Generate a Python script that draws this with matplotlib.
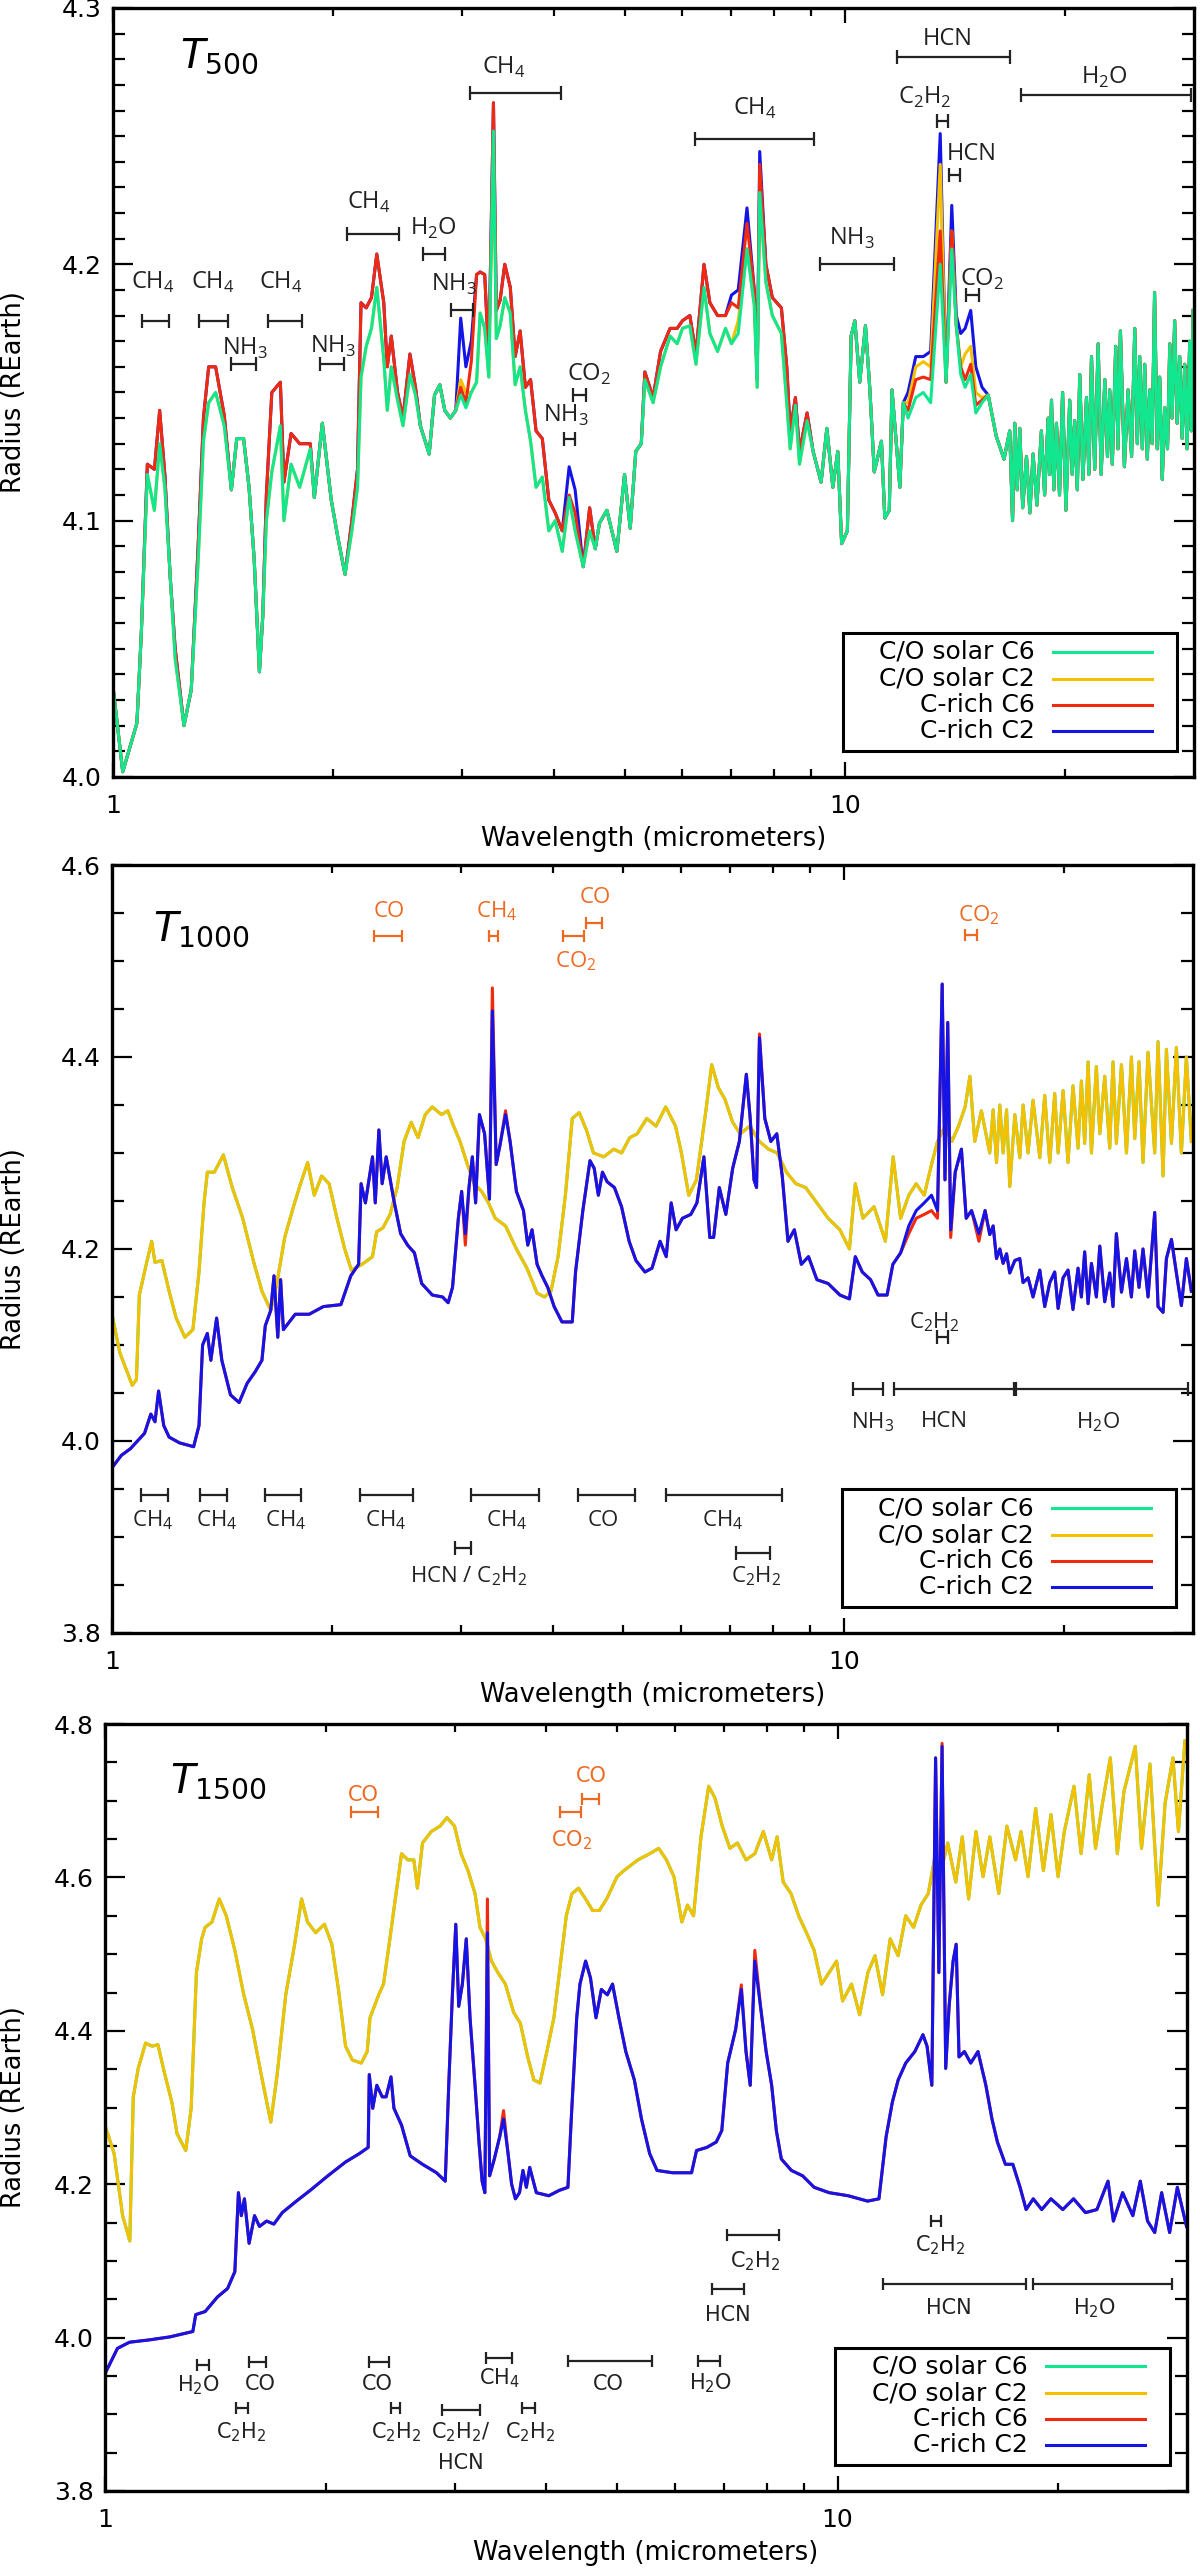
import re
import matplotlib
matplotlib.use('Agg')
import matplotlib.pyplot as plt
from matplotlib.patches import Rectangle
from matplotlib.ticker import (FixedLocator, FixedFormatter, NullFormatter,
                               MultipleLocator, FormatStrFormatter)

plt.rcParams['font.family'] = ['DejaVu Sans']

GREEN = '#12E68E'
YELLOW = '#F4C000'
RED = '#F02A0F'
BLUE = '#1414E6'
ORANGE = '#EE6A22'
DARK = '#222222'

# ---------------- T500 panel (all four models on one grid) ----------------
t500_wl = [
    1.000, 1.031, 1.078, 1.093, 1.114, 1.139, 1.158, 1.177, 1.197, 1.216,
    1.250, 1.279, 1.307, 1.329, 1.351, 1.381, 1.419, 1.451, 1.476, 1.508,
    1.534, 1.559, 1.585, 1.602, 1.620, 1.648, 1.693, 1.712, 1.751, 1.799,
    1.860, 1.884, 1.932, 1.987, 2.030, 2.075, 2.120, 2.158, 2.182, 2.218,
    2.255, 2.293, 2.344, 2.370, 2.400, 2.448, 2.490, 2.545, 2.590, 2.630,
    2.704, 2.750, 2.796, 2.840, 2.890, 2.940, 2.986, 3.035, 3.087, 3.139,
    3.174, 3.220, 3.262, 3.310, 3.340, 3.380, 3.430, 3.490, 3.544, 3.600,
    3.660, 3.720, 3.785, 3.860, 3.940, 4.020, 4.110, 4.200, 4.280, 4.390,
    4.480, 4.560, 4.620, 4.730, 4.880, 5.000, 5.090, 5.180, 5.270, 5.330,
    5.470, 5.600, 5.770, 5.900, 6.000, 6.140, 6.260, 6.420, 6.540, 6.700,
    6.870, 7.000, 7.150, 7.350, 7.520, 7.590, 7.650, 7.800, 7.960, 8.190,
    8.330, 8.420, 8.560, 8.670, 8.880, 9.050, 9.280, 9.450, 9.630, 9.780,
    9.900, 10.08, 10.20, 10.32, 10.48, 10.67, 10.82, 10.97, 11.22, 11.34,
    11.50, 11.60, 11.89, 12.02, 12.20, 12.50, 12.80, 13.10, 13.50, 13.75,
    14.00, 14.20, 14.40, 14.60, 14.86, 15.10, 15.40]

t500_solar_c6 = [
    4.035, 4.002, 4.021, 4.056, 4.118, 4.104, 4.130, 4.113, 4.078, 4.046,
    4.020, 4.034, 4.084, 4.131, 4.146, 4.150, 4.137, 4.112, 4.132, 4.132,
    4.113, 4.085, 4.041, 4.063, 4.100, 4.119, 4.137, 4.100, 4.122, 4.113,
    4.128, 4.109, 4.138, 4.108, 4.093, 4.079, 4.096, 4.113, 4.156, 4.168,
    4.175, 4.191, 4.163, 4.143, 4.160, 4.147, 4.137, 4.157, 4.149, 4.137,
    4.126, 4.149, 4.153, 4.143, 4.140, 4.143, 4.149, 4.144, 4.150, 4.154,
    4.181, 4.175, 4.156, 4.252, 4.171, 4.176, 4.187, 4.181, 4.153, 4.160,
    4.143, 4.131, 4.113, 4.117, 4.096, 4.100, 4.088, 4.109, 4.096, 4.082,
    4.096, 4.089, 4.099, 4.104, 4.088, 4.118, 4.097, 4.127, 4.130, 4.155,
    4.146, 4.160, 4.172, 4.169, 4.175, 4.176, 4.161, 4.191, 4.173, 4.166,
    4.175, 4.169, 4.173, 4.206, 4.184, 4.152, 4.228, 4.193, 4.180, 4.173,
    4.146, 4.128, 4.145, 4.122, 4.139, 4.127, 4.115, 4.136, 4.113, 4.127,
    4.091, 4.096, 4.172, 4.178, 4.154, 4.176, 4.151, 4.119, 4.131, 4.101,
    4.104, 4.151, 4.113, 4.146, 4.140, 4.148, 4.150, 4.146, 4.200, 4.154,
    4.206, 4.176, 4.157, 4.152, 4.157, 4.142, 4.146]

t500_solar_c2 = [
    4.035, 4.002, 4.021, 4.056, 4.118, 4.104, 4.130, 4.113, 4.078, 4.046,
    4.020, 4.034, 4.084, 4.131, 4.146, 4.150, 4.137, 4.112, 4.132, 4.132,
    4.113, 4.085, 4.041, 4.063, 4.100, 4.119, 4.137, 4.100, 4.122, 4.113,
    4.128, 4.109, 4.138, 4.108, 4.093, 4.079, 4.096, 4.113, 4.156, 4.168,
    4.175, 4.191, 4.163, 4.143, 4.160, 4.147, 4.137, 4.157, 4.149, 4.137,
    4.126, 4.149, 4.153, 4.143, 4.140, 4.143, 4.155, 4.150, 4.150, 4.154,
    4.181, 4.175, 4.156, 4.252, 4.171, 4.176, 4.187, 4.181, 4.153, 4.160,
    4.143, 4.131, 4.113, 4.117, 4.096, 4.100, 4.088, 4.109, 4.096, 4.082,
    4.096, 4.089, 4.099, 4.104, 4.088, 4.118, 4.097, 4.127, 4.130, 4.155,
    4.146, 4.160, 4.172, 4.169, 4.175, 4.176, 4.161, 4.191, 4.173, 4.166,
    4.175, 4.169, 4.178, 4.206, 4.184, 4.152, 4.228, 4.193, 4.180, 4.173,
    4.146, 4.128, 4.145, 4.122, 4.139, 4.127, 4.115, 4.136, 4.113, 4.127,
    4.091, 4.096, 4.172, 4.178, 4.154, 4.176, 4.151, 4.119, 4.131, 4.101,
    4.104, 4.151, 4.113, 4.146, 4.146, 4.160, 4.162, 4.160, 4.239, 4.154,
    4.213, 4.176, 4.160, 4.165, 4.168, 4.150, 4.148]

t500_crich_c6 = [
    4.035, 4.002, 4.021, 4.056, 4.122, 4.120, 4.143, 4.118, 4.078, 4.050,
    4.020, 4.034, 4.090, 4.140, 4.160, 4.160, 4.141, 4.112, 4.132, 4.132,
    4.113, 4.085, 4.041, 4.063, 4.110, 4.150, 4.154, 4.115, 4.134, 4.130,
    4.130, 4.109, 4.138, 4.108, 4.093, 4.079, 4.100, 4.120, 4.185, 4.183,
    4.187, 4.204, 4.185, 4.160, 4.172, 4.150, 4.140, 4.165, 4.152, 4.137,
    4.126, 4.149, 4.153, 4.143, 4.140, 4.143, 4.152, 4.146, 4.162, 4.196,
    4.197, 4.196, 4.163, 4.263, 4.182, 4.186, 4.200, 4.191, 4.164, 4.174,
    4.152, 4.155, 4.135, 4.132, 4.108, 4.103, 4.096, 4.110, 4.103, 4.082,
    4.105, 4.089, 4.099, 4.104, 4.088, 4.118, 4.097, 4.127, 4.130, 4.158,
    4.148, 4.166, 4.175, 4.175, 4.178, 4.180, 4.165, 4.200, 4.185, 4.180,
    4.180, 4.185, 4.183, 4.216, 4.190, 4.155, 4.239, 4.200, 4.187, 4.183,
    4.160, 4.135, 4.148, 4.127, 4.142, 4.127, 4.115, 4.136, 4.113, 4.127,
    4.091, 4.096, 4.172, 4.178, 4.154, 4.176, 4.151, 4.119, 4.131, 4.101,
    4.104, 4.151, 4.113, 4.146, 4.143, 4.155, 4.156, 4.155, 4.213, 4.154,
    4.213, 4.176, 4.160, 4.155, 4.161, 4.145, 4.147]

t500_crich_c2 = [
    4.035, 4.002, 4.021, 4.056, 4.122, 4.120, 4.143, 4.118, 4.078, 4.050,
    4.020, 4.034, 4.090, 4.140, 4.160, 4.160, 4.141, 4.112, 4.132, 4.132,
    4.113, 4.085, 4.041, 4.063, 4.110, 4.150, 4.154, 4.115, 4.134, 4.130,
    4.130, 4.109, 4.138, 4.108, 4.093, 4.079, 4.100, 4.120, 4.185, 4.183,
    4.187, 4.204, 4.185, 4.160, 4.172, 4.150, 4.140, 4.165, 4.152, 4.137,
    4.126, 4.149, 4.153, 4.143, 4.140, 4.143, 4.179, 4.160, 4.170, 4.196,
    4.197, 4.196, 4.163, 4.263, 4.182, 4.186, 4.200, 4.191, 4.164, 4.174,
    4.152, 4.155, 4.135, 4.132, 4.108, 4.103, 4.096, 4.121, 4.112, 4.082,
    4.105, 4.089, 4.099, 4.104, 4.088, 4.118, 4.097, 4.127, 4.130, 4.158,
    4.148, 4.166, 4.175, 4.175, 4.178, 4.180, 4.165, 4.200, 4.185, 4.180,
    4.180, 4.188, 4.190, 4.222, 4.190, 4.155, 4.244, 4.200, 4.187, 4.183,
    4.160, 4.135, 4.148, 4.127, 4.142, 4.127, 4.115, 4.136, 4.113, 4.127,
    4.091, 4.096, 4.172, 4.178, 4.154, 4.176, 4.151, 4.119, 4.131, 4.101,
    4.104, 4.151, 4.113, 4.146, 4.150, 4.164, 4.164, 4.166, 4.251, 4.154,
    4.223, 4.180, 4.173, 4.175, 4.182, 4.160, 4.152]

# beyond ~15.5 micron the four T500 models coincide
t500_wl_far = [
    15.70, 16.10, 16.50, 16.80, 16.95, 17.07, 17.20, 17.34, 17.50, 17.71,
    17.90, 18.08, 18.30, 18.56, 18.75, 18.96, 19.05, 19.16, 19.30, 19.46,
    19.65, 19.84, 20.05, 20.29, 20.45, 20.61, 20.78, 20.94, 21.15, 21.39,
    21.55, 21.73, 21.95, 22.19, 22.40, 22.66, 22.85, 23.01, 23.20, 23.45,
    23.62, 23.80, 24.10, 24.38, 24.65, 24.90, 25.10, 25.29, 25.50, 25.69,
    25.90, 26.10, 26.30, 26.50, 26.72, 26.93, 27.15, 27.36, 27.60, 27.80,
    28.00, 28.23, 28.45, 28.68, 28.90, 29.14, 29.35, 29.60, 29.75, 29.91]
t500_far = [
    4.149, 4.133, 4.124, 4.135, 4.100, 4.138, 4.112, 4.136, 4.105, 4.125,
    4.103, 4.126, 4.106, 4.135, 4.110, 4.140, 4.118, 4.147, 4.112, 4.138,
    4.110, 4.150, 4.104, 4.147, 4.118, 4.139, 4.112, 4.157, 4.116, 4.148,
    4.118, 4.164, 4.120, 4.169, 4.118, 4.155, 4.125, 4.151, 4.122, 4.168,
    4.128, 4.174, 4.121, 4.151, 4.125, 4.175, 4.130, 4.164, 4.128, 4.161,
    4.124, 4.151, 4.130, 4.189, 4.128, 4.156, 4.116, 4.144, 4.128, 4.169,
    4.140, 4.178, 4.138, 4.164, 4.132, 4.161, 4.128, 4.170, 4.135, 4.182]

# ---------------- T1000 panel ----------------
t1000_wl_solar = [
    1.000, 1.025, 1.066, 1.080, 1.090, 1.114, 1.133, 1.145, 1.170, 1.197,
    1.224, 1.258, 1.290, 1.315, 1.336, 1.350, 1.380, 1.420, 1.460, 1.509,
    1.560, 1.603, 1.648, 1.680, 1.722, 1.770, 1.810, 1.851, 1.890, 1.934,
    1.980, 2.030, 2.080, 2.124, 2.197, 2.270, 2.300, 2.346, 2.399, 2.453,
    2.507, 2.564, 2.620, 2.680, 2.739, 2.820, 2.877, 2.930, 2.990, 3.060,
    3.126, 3.200, 3.270, 3.340, 3.450, 3.570, 3.690, 3.810, 3.900, 3.980,
    4.070, 4.165, 4.256, 4.350, 4.450, 4.550, 4.700, 4.850, 4.970, 5.100,
    5.220, 5.380, 5.540, 5.710, 5.890, 6.000, 6.140, 6.290, 6.480, 6.600,
    6.740, 6.880, 7.050, 7.220, 7.440, 7.670, 7.890, 8.110, 8.350, 8.600,
    8.870, 9.190, 9.520, 9.880, 10.18, 10.37, 10.62, 11.00, 11.40, 11.68,
    11.96, 12.27, 12.56, 12.88, 13.18, 13.43, 13.75, 14.05, 14.35, 14.65,
    14.87, 15.10, 15.42]

t1000_solar_c2 = [
    4.132, 4.092, 4.058, 4.064, 4.152, 4.184, 4.208, 4.186, 4.188, 4.156,
    4.128, 4.108, 4.116, 4.176, 4.248, 4.280, 4.280, 4.298, 4.264, 4.232,
    4.188, 4.156, 4.136, 4.164, 4.212, 4.244, 4.268, 4.290, 4.256, 4.276,
    4.268, 4.232, 4.200, 4.178, 4.184, 4.192, 4.218, 4.222, 4.236, 4.264,
    4.312, 4.332, 4.316, 4.340, 4.348, 4.340, 4.344, 4.328, 4.312, 4.288,
    4.268, 4.260, 4.248, 4.232, 4.224, 4.200, 4.180, 4.154, 4.150, 4.156,
    4.192, 4.256, 4.336, 4.342, 4.324, 4.300, 4.296, 4.304, 4.300, 4.316,
    4.320, 4.336, 4.328, 4.348, 4.328, 4.300, 4.256, 4.272, 4.344, 4.392,
    4.368, 4.356, 4.332, 4.320, 4.328, 4.312, 4.304, 4.300, 4.280, 4.268,
    4.264, 4.248, 4.232, 4.220, 4.200, 4.268, 4.232, 4.244, 4.208, 4.296,
    4.232, 4.256, 4.268, 4.256, 4.288, 4.312, 4.328, 4.312, 4.328, 4.348,
    4.380, 4.312, 4.344]
# the two solar-C/O runs lie on top of each other at this temperature
t1000_solar_c6 = t1000_solar_c2

t1000_wl_crich = [
    1.000, 1.030, 1.060, 1.108, 1.130, 1.145, 1.158, 1.177, 1.197, 1.237,
    1.293, 1.315, 1.330, 1.350, 1.365, 1.390, 1.413, 1.452, 1.492, 1.530,
    1.569, 1.603, 1.620, 1.648, 1.665, 1.685, 1.700, 1.715, 1.780, 1.860,
    1.945, 2.055, 2.120, 2.173, 2.190, 2.220, 2.270, 2.290, 2.316, 2.340,
    2.370, 2.426, 2.480, 2.535, 2.590, 2.650, 2.740, 2.830, 2.880, 2.920,
    2.974, 3.005, 3.040, 3.075, 3.108, 3.140, 3.178, 3.230, 3.280, 3.310,
    3.350, 3.390, 3.450, 3.500, 3.570, 3.650, 3.700, 3.750, 3.810, 3.870,
    3.940, 4.020, 4.120, 4.256, 4.300, 4.400, 4.500, 4.560, 4.620, 4.680,
    4.750, 4.860, 4.970, 5.090, 5.200, 5.350, 5.470, 5.610, 5.720, 5.810,
    5.900, 6.020, 6.180, 6.300, 6.440, 6.560, 6.640, 6.760, 6.900, 7.050,
    7.200, 7.360, 7.450, 7.540, 7.600, 7.670, 7.800, 7.950, 8.100, 8.240,
    8.390, 8.560, 8.750, 8.950, 9.190, 9.520, 9.880, 10.18, 10.37, 10.60,
    10.88, 11.14, 11.46, 11.67, 11.96, 12.27, 12.56, 12.88, 13.18, 13.43,
    13.63, 13.75, 13.87, 14.00, 14.20, 14.48, 14.70, 14.95, 15.30, 15.60]

t1000_crich_c2 = [
    3.972, 3.985, 3.992, 4.008, 4.028, 4.020, 4.052, 4.016, 4.004, 3.998,
    3.994, 4.016, 4.100, 4.112, 4.084, 4.128, 4.084, 4.048, 4.040, 4.060,
    4.072, 4.084, 4.120, 4.136, 4.172, 4.108, 4.168, 4.116, 4.132, 4.132,
    4.140, 4.142, 4.172, 4.184, 4.268, 4.248, 4.296, 4.248, 4.324, 4.268,
    4.296, 4.252, 4.216, 4.204, 4.196, 4.164, 4.152, 4.150, 4.144, 4.160,
    4.232, 4.260, 4.216, 4.264, 4.296, 4.248, 4.340, 4.320, 4.252, 4.448,
    4.288, 4.308, 4.340, 4.312, 4.260, 4.240, 4.204, 4.220, 4.184, 4.172,
    4.160, 4.140, 4.124, 4.124, 4.176, 4.240, 4.292, 4.284, 4.256, 4.280,
    4.270, 4.264, 4.244, 4.208, 4.188, 4.176, 4.180, 4.208, 4.192, 4.248,
    4.220, 4.232, 4.236, 4.248, 4.296, 4.212, 4.212, 4.264, 4.236, 4.284,
    4.312, 4.382, 4.336, 4.272, 4.264, 4.420, 4.336, 4.312, 4.320, 4.276,
    4.208, 4.220, 4.184, 4.192, 4.168, 4.164, 4.152, 4.148, 4.192, 4.176,
    4.168, 4.152, 4.152, 4.184, 4.196, 4.224, 4.240, 4.248, 4.256, 4.240,
    4.476, 4.272, 4.436, 4.220, 4.280, 4.304, 4.232, 4.240, 4.216, 4.240]

t1000_crich_c6 = [
    3.972, 3.985, 3.992, 4.008, 4.028, 4.020, 4.052, 4.016, 4.004, 3.998,
    3.994, 4.016, 4.100, 4.112, 4.084, 4.128, 4.084, 4.048, 4.040, 4.060,
    4.072, 4.084, 4.120, 4.136, 4.172, 4.108, 4.168, 4.116, 4.132, 4.132,
    4.140, 4.142, 4.172, 4.184, 4.268, 4.248, 4.296, 4.248, 4.324, 4.268,
    4.296, 4.252, 4.216, 4.204, 4.196, 4.164, 4.152, 4.150, 4.144, 4.160,
    4.232, 4.260, 4.204, 4.264, 4.296, 4.248, 4.340, 4.320, 4.252, 4.472,
    4.288, 4.308, 4.344, 4.312, 4.260, 4.240, 4.204, 4.220, 4.184, 4.172,
    4.160, 4.140, 4.124, 4.124, 4.176, 4.240, 4.292, 4.284, 4.256, 4.280,
    4.270, 4.264, 4.244, 4.208, 4.188, 4.176, 4.180, 4.208, 4.192, 4.248,
    4.220, 4.232, 4.236, 4.248, 4.296, 4.212, 4.212, 4.264, 4.236, 4.284,
    4.312, 4.382, 4.336, 4.272, 4.264, 4.424, 4.336, 4.312, 4.320, 4.276,
    4.208, 4.220, 4.184, 4.192, 4.168, 4.164, 4.152, 4.148, 4.192, 4.176,
    4.168, 4.152, 4.152, 4.184, 4.196, 4.216, 4.232, 4.236, 4.240, 4.232,
    4.476, 4.272, 4.436, 4.212, 4.280, 4.304, 4.232, 4.240, 4.208, 4.240]

# far-infrared tail, finer sampling of the noisy part
t1000_wl_far = [
    15.83, 16.00, 16.17, 16.34, 16.51, 16.69, 16.86, 17.13, 17.40, 17.58,
    17.86, 18.14, 18.53, 18.82, 19.12, 19.42, 19.63, 19.94, 20.25, 20.57,
    20.90, 21.12, 21.34, 21.57, 21.80, 22.14, 22.38, 22.73, 23.09, 23.33,
    23.58, 23.96, 24.34, 24.72, 24.98, 25.32, 25.64, 26.05, 26.60, 26.88,
    27.31, 27.60, 28.04, 28.48, 28.93, 29.39, 29.85]
t1000_solar_far = [
    4.300, 4.345, 4.290, 4.350, 4.300, 4.345, 4.265, 4.340, 4.295, 4.350,
    4.300, 4.355, 4.295, 4.360, 4.290, 4.362, 4.300, 4.365, 4.290, 4.370,
    4.305, 4.375, 4.310, 4.395, 4.300, 4.390, 4.320, 4.380, 4.305, 4.395,
    4.310, 4.392, 4.300, 4.400, 4.315, 4.395, 4.290, 4.405, 4.300, 4.416,
    4.276, 4.408, 4.310, 4.410, 4.300, 4.400, 4.312]
t1000_crich_far = [
    4.215, 4.224, 4.190, 4.200, 4.185, 4.195, 4.175, 4.188, 4.190, 4.165,
    4.170, 4.150, 4.178, 4.140, 4.165, 4.176, 4.138, 4.170, 4.178, 4.137,
    4.180, 4.150, 4.197, 4.143, 4.185, 4.150, 4.203, 4.145, 4.175, 4.140,
    4.216, 4.155, 4.190, 4.150, 4.198, 4.160, 4.200, 4.150, 4.238, 4.140,
    4.134, 4.190, 4.210, 4.175, 4.141, 4.190, 4.156]

# ---------------- T1500 panel ----------------
t1500_wl_solar = [
    1.000, 1.029, 1.057, 1.081, 1.093, 1.110, 1.136, 1.160, 1.181, 1.207,
    1.234, 1.254, 1.289, 1.311, 1.333, 1.355, 1.370, 1.400, 1.432, 1.464,
    1.504, 1.547, 1.590, 1.634, 1.684, 1.718, 1.765, 1.815, 1.855, 1.890,
    1.939, 1.993, 2.040, 2.083, 2.130, 2.176, 2.238, 2.280, 2.300, 2.364,
    2.400, 2.443, 2.484, 2.540, 2.590, 2.640, 2.670, 2.713, 2.789, 2.867,
    2.930, 3.000, 3.063, 3.130, 3.200, 3.250, 3.308, 3.370, 3.438, 3.520,
    3.613, 3.690, 3.776, 3.850, 3.925, 4.010, 4.100, 4.180, 4.263, 4.340,
    4.430, 4.530, 4.630, 4.730, 4.840, 5.000, 5.110, 5.340, 5.540, 5.700,
    5.840, 5.980, 6.130, 6.240, 6.360, 6.510, 6.670, 6.800, 6.960, 7.130,
    7.300, 7.500, 7.710, 7.920, 8.130, 8.270, 8.430, 8.640, 8.850, 9.070,
    9.290, 9.510, 9.740, 9.970, 10.16, 10.45, 10.72, 11.00, 11.25, 11.52,
    11.80, 12.10, 12.39, 12.70, 13.00, 13.30, 13.56, 13.85, 14.14, 14.50,
    14.80, 15.10, 15.45, 15.80, 16.14, 16.60, 17.03, 17.50, 17.80, 18.20,
    18.64, 19.10, 19.56, 20.00, 20.40, 21.03, 21.50, 22.06, 22.50, 23.00,
    23.57, 24.10, 24.60, 25.50, 26.00, 26.70, 27.40, 28.00, 28.70, 29.20,
    29.80]

t1500_solar_c2 = [
    4.277, 4.240, 4.159, 4.126, 4.314, 4.351, 4.384, 4.380, 4.382, 4.343,
    4.307, 4.266, 4.244, 4.299, 4.476, 4.520, 4.535, 4.542, 4.572, 4.550,
    4.505, 4.447, 4.402, 4.343, 4.281, 4.343, 4.447, 4.513, 4.572, 4.542,
    4.528, 4.539, 4.513, 4.454, 4.380, 4.362, 4.358, 4.373, 4.417, 4.447,
    4.461, 4.513, 4.564, 4.631, 4.623, 4.623, 4.586, 4.645, 4.660, 4.667,
    4.678, 4.667, 4.631, 4.609, 4.579, 4.535, 4.520, 4.491, 4.476, 4.461,
    4.424, 4.410, 4.366, 4.336, 4.332, 4.373, 4.417, 4.483, 4.550, 4.579,
    4.586, 4.572, 4.557, 4.557, 4.572, 4.601, 4.609, 4.623, 4.631, 4.638,
    4.623, 4.601, 4.542, 4.564, 4.550, 4.653, 4.719, 4.704, 4.667, 4.638,
    4.645, 4.623, 4.631, 4.660, 4.623, 4.653, 4.594, 4.579, 4.550, 4.528,
    4.505, 4.461, 4.476, 4.491, 4.439, 4.461, 4.421, 4.476, 4.498, 4.447,
    4.520, 4.498, 4.550, 4.535, 4.564, 4.579, 4.623, 4.609, 4.645, 4.594,
    4.653, 4.572, 4.660, 4.601, 4.653, 4.579, 4.667, 4.623, 4.660, 4.601,
    4.690, 4.609, 4.682, 4.601, 4.660, 4.719, 4.631, 4.734, 4.638, 4.697,
    4.756, 4.631, 4.712, 4.771, 4.638, 4.748, 4.564, 4.697, 4.756, 4.660,
    4.778]
t1500_solar_c6 = t1500_solar_c2

t1500_wl_crich = [
    1.000, 1.040, 1.080, 1.149, 1.227, 1.318, 1.330, 1.370, 1.424, 1.470,
    1.504, 1.521, 1.535, 1.550, 1.573, 1.600, 1.625, 1.662, 1.700, 1.746,
    1.825, 1.906, 2.015, 2.130, 2.225, 2.287, 2.295, 2.320, 2.350, 2.390,
    2.420, 2.457, 2.480, 2.540, 2.610, 2.713, 2.835, 2.914, 2.946, 2.980,
    3.012, 3.040, 3.075, 3.113, 3.150, 3.200, 3.240, 3.272, 3.300, 3.327,
    3.350, 3.400, 3.458, 3.500, 3.550, 3.590, 3.633, 3.680, 3.720, 3.760,
    3.800, 3.880, 4.035, 4.170, 4.285, 4.330, 4.405, 4.450, 4.530, 4.600,
    4.680, 4.760, 4.850, 4.930, 5.030, 5.140, 5.280, 5.400, 5.540, 5.670,
    5.950, 6.320, 6.420, 6.630, 6.830, 6.950, 7.080, 7.260, 7.390, 7.500,
    7.600, 7.710, 7.850, 7.990, 8.130, 8.250, 8.380, 8.650, 8.960, 9.290,
    9.740, 10.34, 10.99, 11.39, 11.65, 11.88, 12.10, 12.39, 12.75, 13.08,
    13.25, 13.45, 13.61, 13.75, 13.89, 14.05, 14.20, 14.38, 14.52, 14.65,
    14.90, 15.20, 15.55, 15.94, 16.25, 16.53, 16.95, 17.35, 17.75, 18.09,
    18.50, 19.00, 19.56, 20.30, 21.00, 21.80, 22.60, 23.40, 23.80, 24.50,
    25.30, 25.90, 26.50, 27.10, 27.70, 28.40, 29.10, 29.95]

t1500_crich_c2 = [
    3.953, 3.986, 3.994, 3.997, 4.001, 4.008, 4.030, 4.034, 4.053, 4.064,
    4.086, 4.189, 4.159, 4.181, 4.123, 4.159, 4.145, 4.152, 4.148, 4.163,
    4.178, 4.192, 4.211, 4.229, 4.240, 4.248, 4.343, 4.299, 4.329, 4.314,
    4.314, 4.340, 4.299, 4.277, 4.237, 4.226, 4.215, 4.204, 4.329, 4.447,
    4.539, 4.432, 4.461, 4.520, 4.417, 4.329, 4.255, 4.204, 4.189, 4.528,
    4.211, 4.233, 4.262, 4.285, 4.240, 4.200, 4.181, 4.189, 4.218, 4.196,
    4.222, 4.189, 4.185, 4.192, 4.196, 4.285, 4.417, 4.461, 4.491, 4.469,
    4.417, 4.454, 4.447, 4.461, 4.417, 4.373, 4.336, 4.285, 4.240, 4.218,
    4.215, 4.215, 4.244, 4.248, 4.255, 4.270, 4.358, 4.402, 4.454, 4.373,
    4.329, 4.491, 4.432, 4.373, 4.329, 4.270, 4.233, 4.218, 4.211, 4.196,
    4.189, 4.185, 4.178, 4.181, 4.262, 4.307, 4.336, 4.358, 4.373, 4.395,
    4.380, 4.329, 4.756, 4.476, 4.771, 4.351, 4.432, 4.491, 4.513, 4.366,
    4.373, 4.358, 4.373, 4.329, 4.285, 4.255, 4.226, 4.226, 4.196, 4.167,
    4.181, 4.167, 4.181, 4.167, 4.181, 4.163, 4.167, 4.204, 4.152, 4.189,
    4.159, 4.204, 4.152, 4.137, 4.189, 4.137, 4.196, 4.145]

t1500_crich_c6 = [
    3.953, 3.986, 3.994, 3.997, 4.001, 4.008, 4.030, 4.034, 4.053, 4.064,
    4.086, 4.189, 4.159, 4.181, 4.123, 4.159, 4.145, 4.152, 4.148, 4.163,
    4.178, 4.192, 4.211, 4.229, 4.240, 4.248, 4.343, 4.299, 4.329, 4.314,
    4.314, 4.340, 4.299, 4.277, 4.237, 4.226, 4.215, 4.204, 4.329, 4.447,
    4.539, 4.432, 4.461, 4.520, 4.417, 4.329, 4.255, 4.204, 4.189, 4.572,
    4.211, 4.233, 4.262, 4.296, 4.240, 4.200, 4.181, 4.189, 4.218, 4.196,
    4.222, 4.189, 4.185, 4.192, 4.196, 4.285, 4.417, 4.461, 4.491, 4.469,
    4.417, 4.454, 4.447, 4.461, 4.417, 4.373, 4.336, 4.285, 4.240, 4.218,
    4.215, 4.215, 4.244, 4.248, 4.255, 4.270, 4.358, 4.402, 4.460, 4.373,
    4.329, 4.505, 4.432, 4.373, 4.329, 4.270, 4.233, 4.218, 4.211, 4.196,
    4.189, 4.185, 4.178, 4.181, 4.262, 4.307, 4.336, 4.358, 4.373, 4.395,
    4.380, 4.329, 4.756, 4.476, 4.775, 4.351, 4.432, 4.491, 4.513, 4.366,
    4.373, 4.358, 4.373, 4.329, 4.285, 4.255, 4.226, 4.226, 4.196, 4.167,
    4.181, 4.167, 4.181, 4.167, 4.181, 4.163, 4.167, 4.204, 4.152, 4.189,
    4.159, 4.204, 4.152, 4.137, 4.189, 4.137, 4.196, 4.145]

# ---------------- molecule band annotations: (label, x, y) and (x1, x2, y) ----------------
t500_labels = [('CH4', 1.134, 4.193), ('CH4', 1.367, 4.193), ('NH3', 1.514, 4.167),
               ('CH4', 1.698, 4.193), ('NH3', 1.998, 4.168), ('CH4', 2.239, 4.224),
               ('H2O', 2.741, 4.214), ('NH3', 2.925, 4.192), ('CH4', 3.415, 4.277),
               ('NH3', 4.165, 4.141), ('CO2', 4.475, 4.157), ('CH4', 7.53, 4.261),
               ('NH3', 10.24, 4.210), ('HCN', 13.84, 4.288), ('H2O', 22.6, 4.273),
               ('C2H2', 12.87, 4.265), ('HCN', 14.91, 4.243), ('CO2', 15.4, 4.194)]
t500_bars = [(1.094, 1.194, 4.178), (1.309, 1.434, 4.178), (1.450, 1.566, 4.161),
             (1.627, 1.810, 4.178), (1.915, 2.070, 4.161), (2.088, 2.460, 4.212),
             (2.651, 2.842, 4.204), (2.893, 3.108, 4.182), (3.077, 4.093, 4.267),
             (4.128, 4.280, 4.132), (4.256, 4.430, 4.149), (6.24, 9.08, 4.249),
             (9.24, 11.69, 4.200), (11.77, 16.83, 4.281), (17.4, 29.7, 4.266),
             (13.38, 13.84, 4.256), (13.87, 14.35, 4.235), (14.66, 15.24, 4.188)]

t1000_labels = [('CH4', 1.136, 3.917), ('CH4', 1.388, 3.917), ('CH4', 1.727, 3.917),
                ('CH4', 2.368, 3.917), ('CH4', 3.467, 3.917), ('CO', 4.69, 3.917),
                ('CH4', 6.83, 3.917), ('HCN / C2H2', 3.07, 3.859), ('C2H2', 7.6, 3.859),
                ('C2H2', 13.3, 4.124), ('NH3', 10.94, 4.020), ('HCN', 13.73, 4.020),
                ('H2O', 22.26, 4.020)]
t1000_bars = [(1.096, 1.192, 3.944), (1.32, 1.438, 3.944), (1.62, 1.814, 3.944),
              (2.184, 2.576, 3.944), (3.092, 3.828, 3.944), (4.337, 5.192, 3.944),
              (5.72, 8.24, 3.944), (2.944, 3.092, 3.888), (7.12, 7.93, 3.883),
              (10.3, 11.3, 4.054), (11.7, 17.1, 4.054), (17.2, 29.5, 4.054),
              (13.4, 13.9, 4.108)]
t1000_labels_hot = [('CO', 2.393, 4.552), ('CH4', 3.35, 4.552), ('CO2', 4.305, 4.500),
                    ('CO', 4.578, 4.566), ('CO2', 15.29, 4.548)]
t1000_bars_hot = [(2.28, 2.49, 4.526), (3.27, 3.37, 4.526), (4.14, 4.42, 4.526),
                  (4.45, 4.67, 4.540), (14.65, 15.2, 4.527)]

t1500_labels = [('H2O', 1.343, 3.938), ('CO', 1.631, 3.940), ('C2H2', 1.535, 3.877),
                ('CO', 2.35, 3.940), ('C2H2', 2.497, 3.877), ('C2H2/', 3.063, 3.877),
                ('HCN', 3.063, 3.837), ('CH4', 3.458, 3.947), ('C2H2', 3.81, 3.877),
                ('CO', 4.864, 3.940), ('H2O', 6.71, 3.940), ('HCN', 7.08, 4.030),
                ('C2H2', 7.71, 4.100), ('C2H2', 13.8, 4.121), ('HCN', 14.17, 4.038),
                ('H2O', 22.46, 4.038)]
t1500_bars = [(1.337, 1.385, 3.964), (1.57, 1.66, 3.968), (1.508, 1.566, 3.908),
              (2.29, 2.44, 3.968), (2.46, 2.53, 3.908), (2.88, 3.25, 3.905),
              (3.31, 3.59, 3.973), (3.71, 3.86, 3.908), (4.29, 5.58, 3.970),
              (6.45, 6.92, 3.970), (6.74, 7.45, 4.064), (7.06, 8.33, 4.134),
              (13.4, 13.85, 4.152), (11.55, 18.1, 4.070), (18.5, 28.6, 4.070)]
t1500_labels_hot = [('CO', 2.249, 4.708), ('CO2', 4.334, 4.649), ('CO', 4.605, 4.732)]
t1500_bars_hot = [(2.165, 2.36, 4.686), (4.18, 4.46, 4.686), (4.48, 4.73, 4.703)]

legend_names = ['C/O solar C6', 'C/O solar C2', 'C-rich C6', 'C-rich C2']
legend_colors = [GREEN, YELLOW, RED, BLUE]


def chem(s):
    # digits in formulas become subscripts drawn in the label's own font
    return re.sub(r'(\d)', r'$_{\\mathdefault{\1}}$', s)


def style_axes(ax, ylim, major, minor):
    ax.set_xscale('log')
    ax.set_xlim(1, 30)
    ax.set_ylim(*ylim)
    ax.xaxis.set_major_locator(FixedLocator([1, 10]))
    ax.xaxis.set_major_formatter(FixedFormatter(['1', '10']))
    ax.xaxis.set_minor_locator(FixedLocator([2, 3, 4, 5, 6, 7, 8, 9, 20]))
    ax.xaxis.set_minor_formatter(NullFormatter())
    ax.yaxis.set_major_locator(MultipleLocator(major))
    ax.yaxis.set_minor_locator(MultipleLocator(minor))
    ax.yaxis.set_major_formatter(FormatStrFormatter('%.1f'))
    ax.tick_params(which='both', direction='in', top=True, right=True,
                   width=1.6, labelsize=18)
    ax.tick_params(axis='x', which='major', length=11, pad=12)
    ax.tick_params(axis='x', which='minor', length=5.5)
    ax.tick_params(axis='y', which='major', length=14.5, pad=8)
    ax.tick_params(axis='y', which='minor', length=8.5)
    for s in ax.spines.values():
        s.set_linewidth(2.4)
    ax.set_xlabel('Wavelength (micrometers)', fontsize=18.5, labelpad=6)
    ax.set_ylabel('Radius (REarth)', fontsize=18.5)


def annotate(ax, labels, bars, color, family, size, cap):
    for x1, x2, y in bars:
        ax.plot([x1, x2], [y, y], color=color, lw=1.6, solid_capstyle='butt', zorder=5)
        ax.plot([x1, x2], [y, y], ls='none', marker='|', ms=cap, mew=1.6,
                color=color, zorder=5)
    for txt, x, y in labels:
        ax.text(x, y, chem(txt), color=color, fontsize=size, family=family,
                ha='center', va='center', zorder=6)


def draw_legend(ax):
    ax.add_patch(Rectangle((0.675, 0.034), 0.309, 0.153, transform=ax.transAxes,
                           fc='white', ec='black', lw=2.2, zorder=10))
    rows = [0.1625, 0.1274, 0.0936, 0.0598]
    for name, col, yy in zip(legend_names, legend_colors, rows):
        ax.text(0.853, yy, name, transform=ax.transAxes, ha='right', va='center',
                fontsize=18, zorder=11)
        ax.plot([0.8696, 0.961], [yy, yy], transform=ax.transAxes, color=col,
                lw=2.2, zorder=11)


fig = plt.figure(figsize=(12, 25.76), dpi=100)
ax1 = fig.add_axes([0.0942, 0.6984, 0.9008, 0.2985])
ax2 = fig.add_axes([0.0933, 0.3661, 0.9008, 0.2981])
ax3 = fig.add_axes([0.0875, 0.0330, 0.9017, 0.2977])

# T500: green drawn last, it sits on top
wl500 = t500_wl + t500_wl_far
ax1.plot(wl500, t500_crich_c2 + t500_far, color=BLUE, lw=2.2)
ax1.plot(wl500, t500_solar_c2 + t500_far, color=YELLOW, lw=2.2)
ax1.plot(wl500, t500_crich_c6 + t500_far, color=RED, lw=2.2)
ax1.plot(wl500, t500_solar_c6 + t500_far, color=GREEN, lw=2.2)

# T1000: blue drawn last
ax2.plot(t1000_wl_solar + t1000_wl_far, t1000_solar_c6 + t1000_solar_far, color=GREEN, lw=2.2)
ax2.plot(t1000_wl_solar + t1000_wl_far, t1000_solar_c2 + t1000_solar_far, color=YELLOW, lw=2.2)
ax2.plot(t1000_wl_crich + t1000_wl_far, t1000_crich_c6 + t1000_crich_far, color=RED, lw=2.2)
ax2.plot(t1000_wl_crich + t1000_wl_far, t1000_crich_c2 + t1000_crich_far, color=BLUE, lw=2.2)

# T1500
ax3.plot(t1500_wl_solar, t1500_solar_c6, color=GREEN, lw=2.2)
ax3.plot(t1500_wl_solar, t1500_solar_c2, color=YELLOW, lw=2.2)
ax3.plot(t1500_wl_crich, t1500_crich_c6, color=RED, lw=2.2)
ax3.plot(t1500_wl_crich, t1500_crich_c2, color=BLUE, lw=2.2)

style_axes(ax1, (4.0, 4.3), 0.1, 0.01)
style_axes(ax2, (3.8, 4.6), 0.2, 0.05)
style_axes(ax3, (3.8, 4.8), 0.2, 0.05)
ax1.yaxis.set_label_coords(-86 / 1081, 0.5)
ax2.yaxis.set_label_coords(-85 / 1081, 0.5)
ax3.yaxis.set_label_coords(-78 / 1082, 0.5)

annotate(ax1, t500_labels, t500_bars, DARK, 'Open Sans', 17, 10)
annotate(ax2, t1000_labels, t1000_bars, DARK, 'Open Sans', 16, 10)
annotate(ax2, t1000_labels_hot, t1000_bars_hot, ORANGE, 'Open Sans', 16, 8)
annotate(ax3, t1500_labels, t1500_bars, DARK, 'DejaVu Sans', 15, 9)
annotate(ax3, t1500_labels_hot, t1500_bars_hot, ORANGE, 'DejaVu Sans', 15, 8)

ax1.text(0.062, 0.923, r'$T_{500}$', transform=ax1.transAxes, fontsize=29, va='baseline')
ax2.text(0.038, 0.902, r'$T_{1000}$', transform=ax2.transAxes, fontsize=29, va='baseline')
ax3.text(0.060, 0.911, r'$T_{1500}$', transform=ax3.transAxes, fontsize=29, va='baseline')

for ax in (ax1, ax2, ax3):
    draw_legend(ax)

fig.savefig('out.png', dpi=100)
